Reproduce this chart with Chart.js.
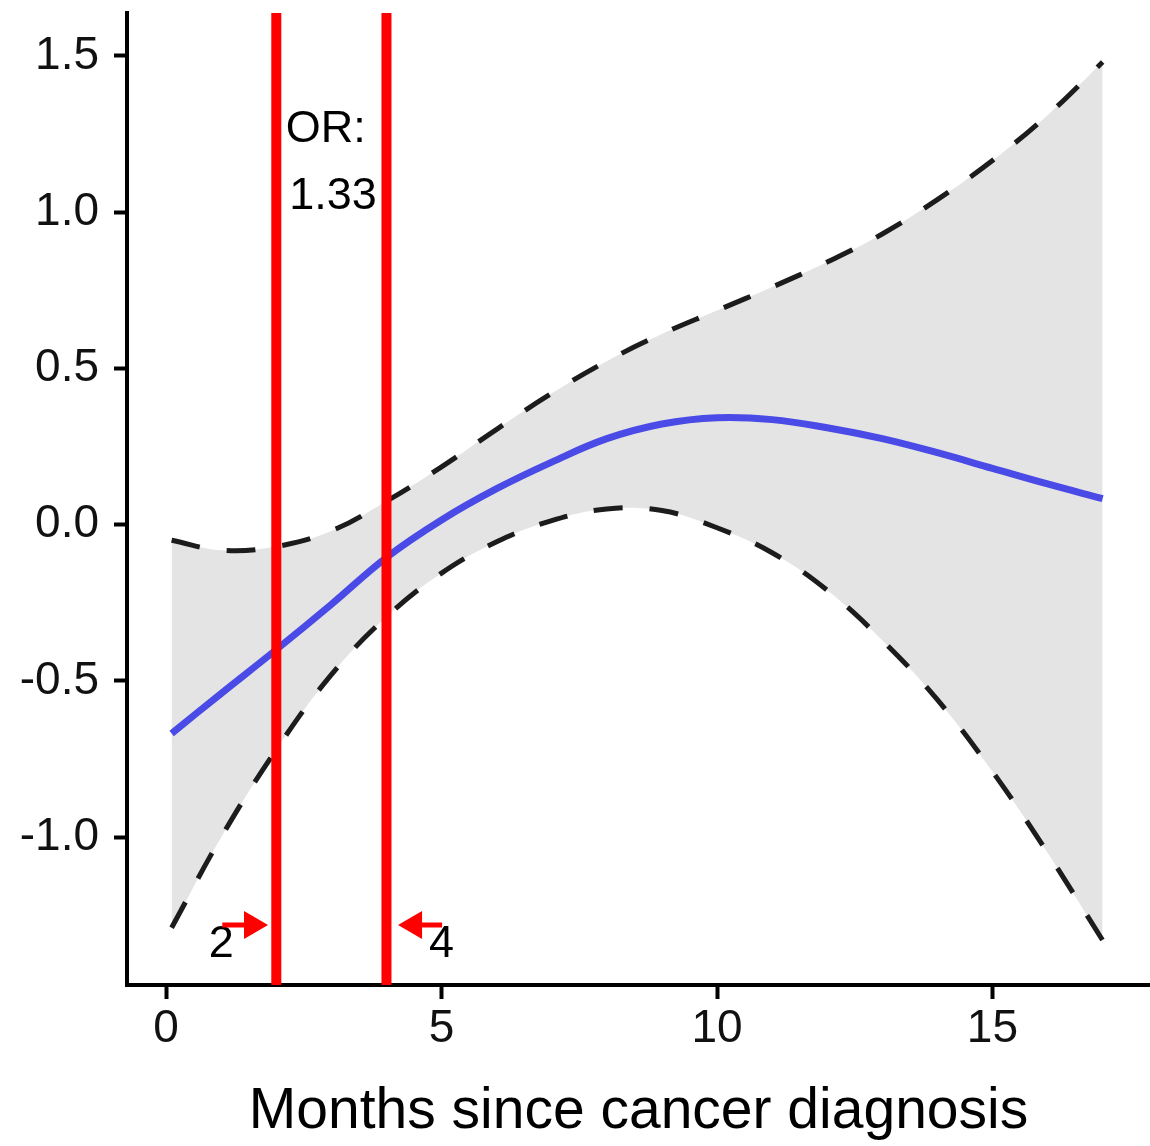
<!DOCTYPE html>
<html>
<head>
<meta charset="utf-8">
<script src="https://cdn.jsdelivr.net/npm/chart.js@4/dist/chart.umd.min.js"></script>
<style>
  html, body { margin: 0; padding: 0; background: #fff; }
  #wrap { width: 1150px; height: 1146px; }
</style>
</head>
<body>
<div id="wrap"><canvas id="chart" width="1150" height="1146"></canvas></div>
<script>
// months since diagnosis
const months = [0.1, 1, 2, 3, 4, 5, 6, 7, 8, 9, 10, 11, 12, 13, 14, 15, 16, 17];
// fitted log-odds (blue) and the confidence band
const fitted = [-0.668, -0.54, -0.40, -0.255, -0.105, 0.015, 0.115, 0.2, 0.275, 0.322, 0.342, 0.336, 0.31, 0.275, 0.23, 0.18, 0.13, 0.083];
const upper  = [-0.05, -0.082, -0.07, -0.02, 0.075, 0.185, 0.305, 0.42, 0.523, 0.61, 0.685, 0.76, 0.84, 0.93, 1.04, 1.165, 1.31, 1.48];
const lower  = [-1.29, -1.0, -0.72, -0.48, -0.295, -0.155, -0.055, 0.013, 0.05, 0.045, -0.01, -0.09, -0.21, -0.37, -0.56, -0.79, -1.05, -1.33];

// window boundaries (red lines)
const cutoffs = [2, 4];

const xTicks = [0, 5, 10, 15];
const yTicks = [-1.0, -0.5, 0.0, 0.5, 1.0, 1.5];
const xRange = [-0.71, 17.86];
const yRange = [-1.473, 1.637];

// text labels and arrows, in data units
const notes = [
  { text: 'OR:', x: 2.9, y: 1.265 },
  { text: '1.33', x: 3.03, y: 1.05 },
  { text: '2', x: 1.0, y: -1.345 },
  { text: '4', x: 5.0, y: -1.345 }
];
const arrows = [
  { from: 1.02, to: 1.85, y: -1.281 },
  { from: 5.01, to: 4.21, y: -1.281 }
];

const FONT = "'Liberation Sans', Arial, sans-serif";

function toPoints(xs, ys) {
  return xs.map((x, i) => ({ x: x, y: ys[i] }));
}

function vline(x) {
  return {
    data: [{ x: x, y: yRange[0] }, { x: x, y: yRange[1] }],
    borderColor: '#ff0000',
    borderWidth: 10,
    pointRadius: 0,
    fill: false
  };
}

const annotatePlugin = {
  id: 'annotate',
  afterDatasetsDraw(chart) {
    const ctx = chart.ctx;
    const xs = chart.scales.x, ys = chart.scales.y;
    ctx.save();
    ctx.fillStyle = '#000';
    ctx.font = '45px ' + FONT;
    ctx.textAlign = 'center';
    ctx.textBaseline = 'middle';
    notes.forEach(n => {
      ctx.fillText(n.text, xs.getPixelForValue(n.x), ys.getPixelForValue(n.y));
    });
    // arrows
    ctx.strokeStyle = '#ff0000';
    ctx.fillStyle = '#ff0000';
    ctx.lineWidth = 5;
    arrows.forEach(a => {
      const x0 = xs.getPixelForValue(a.from);
      const x1 = xs.getPixelForValue(a.to);
      const y = ys.getPixelForValue(a.y);
      const dir = Math.sign(x1 - x0);
      const headLen = 24, headHalf = 14;
      ctx.beginPath();
      ctx.moveTo(x0, y);
      ctx.lineTo(x1 - dir * headLen, y);
      ctx.stroke();
      ctx.beginPath();
      ctx.moveTo(x1, y);
      ctx.lineTo(x1 - dir * headLen, y - headHalf);
      ctx.lineTo(x1 - dir * headLen, y + headHalf);
      ctx.closePath();
      ctx.fill();
    });
    ctx.restore();
  }
};

new Chart(document.getElementById('chart'), {
  type: 'line',
  data: {
    datasets: [
      vline(cutoffs[0]),
      vline(cutoffs[1]),
      {
        data: toPoints(months, fitted),
        borderColor: '#4a4ae6',
        borderWidth: 7,
        pointRadius: 0,
        tension: 0.4,
        fill: false
      },
      {
        data: toPoints(months, upper),
        borderColor: '#1c1c1c',
        borderWidth: 5,
        borderDash: [29, 27],
        pointRadius: 0,
        tension: 0.4,
        backgroundColor: '#e4e4e4',
        fill: '+1'
      },
      {
        data: toPoints(months, lower),
        borderColor: '#1c1c1c',
        borderWidth: 5,
        borderDash: [29, 27],
        pointRadius: 0,
        tension: 0.4,
        fill: false
      }
    ]
  },
  options: {
    responsive: false,
    animation: false,
    layout: { padding: { top: 13, left: 0, right: -3, bottom: 0 } },
    plugins: {
      legend: { display: false },
      tooltip: { enabled: false },
      filler: { drawTime: 'beforeDatasetsDraw', propagate: false }
    },
    scales: {
      x: {
        type: 'linear',
        min: xRange[0],
        max: xRange[1],
        afterBuildTicks: s => { s.ticks = xTicks.map(v => ({ value: v })); },
        afterFit: s => { s.height = 161; s.paddingLeft = 0; s.paddingRight = 0; },
        grid: { drawOnChartArea: false, drawTicks: true, tickLength: 14, tickColor: '#000', tickWidth: 4 },
        border: { display: true, color: '#000', width: 4 },
        ticks: {
          color: '#111',
          font: { family: FONT, size: 46 },
          padding: 3,
          maxRotation: 0,
          callback: v => String(v)
        },
        title: {
          display: true,
          text: 'Months since cancer diagnosis',
          color: '#000',
          font: { family: FONT, size: 57 },
          padding: 0
        }
      },
      y: {
        type: 'linear',
        min: yRange[0],
        max: yRange[1],
        afterBuildTicks: s => { s.ticks = yTicks.map(v => ({ value: v })); },
        afterFit: s => { s.width = 127; s.paddingTop = 0; s.paddingBottom = 0; },
        grid: { drawOnChartArea: false, drawTicks: true, tickLength: 13, tickColor: '#000', tickWidth: 4 },
        border: { display: true, color: '#000', width: 4 },
        ticks: {
          color: '#111',
          font: { family: FONT, size: 46 },
          padding: 15,
          callback: v => Number(v).toFixed(1)
        }
      }
    }
  },
  plugins: [annotatePlugin]
});
</script>
</body>
</html>
